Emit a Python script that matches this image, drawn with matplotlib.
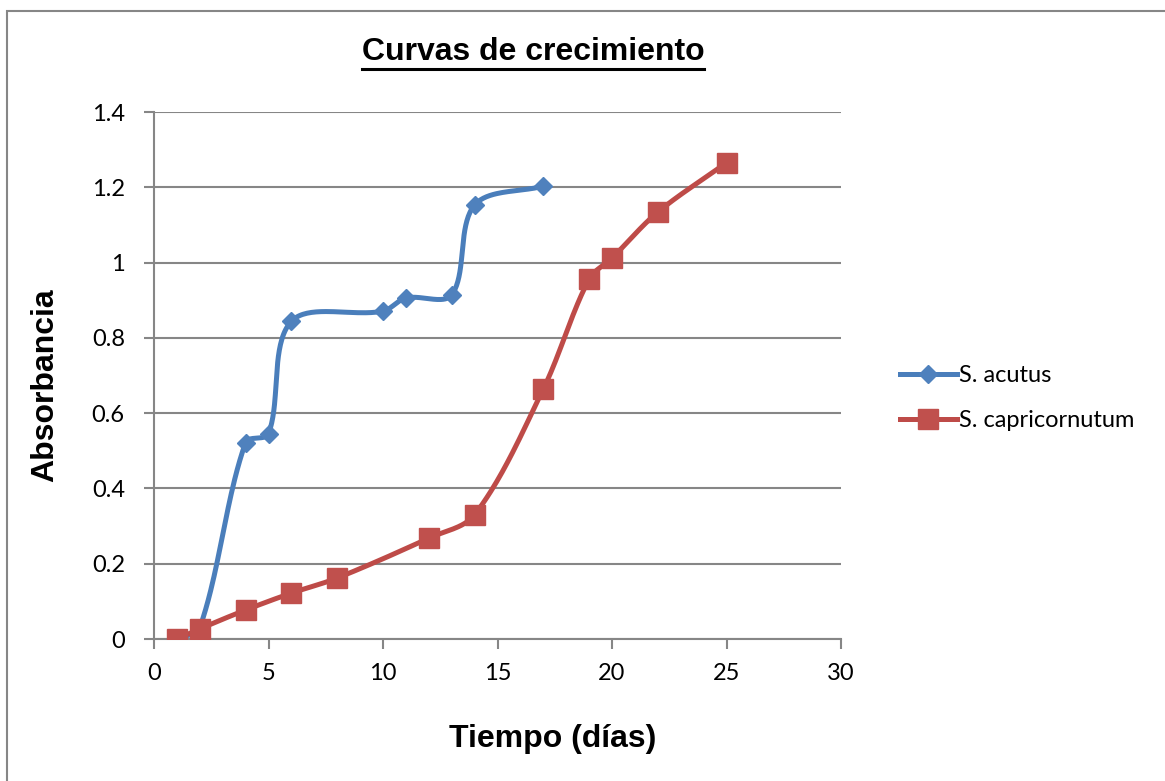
import numpy as np
import matplotlib.pyplot as plt
from matplotlib.patches import Rectangle
from matplotlib.lines import Line2D

# data
acutus_x = [1, 2, 4, 5, 6, 10, 11, 13, 14, 17]
acutus_y = [0, 0.03, 0.522, 0.545, 0.844, 0.871, 0.906, 0.914, 1.153, 1.203]
capri_x = [1, 2, 4, 6, 8, 12, 14, 17, 19, 20, 22, 25]
capri_y = [0, 0.027, 0.077, 0.122, 0.162, 0.268, 0.33, 0.664, 0.956, 1.012, 1.134, 1.265]
series_names = ["S. acutus", "S. capricornutum"]
x_ticks = [0, 5, 10, 15, 20, 25, 30]
y_ticks = [0, 0.2, 0.4, 0.6, 0.8, 1, 1.2, 1.4]
y_tick_labels = ["0", "0.2", "0.4", "0.6", "0.8", "1", "1.2", "1.4"]

BLUE_LINE = "#4A7EBB"
BLUE_MARK = "#4F81BD"
RED_LINE = "#BE4B48"
RED_MARK = "#C0504D"
GRID = "#868686"

# rough pixel per data unit, so the smoothing works in screen space
SX, SY = 22.9, 376.4


def smooth(xs, ys, n=40):
	# bezier smoothing, handles scaled by the neighbouring segment lengths
	p = np.column_stack([np.array(xs) * SX, np.array(ys) * SY]).astype(float)
	m = len(p)
	hin = np.zeros_like(p)
	hout = np.zeros_like(p)
	for i in range(m):
		a = p[max(i - 1, 0)]
		b = p[min(i + 1, m - 1)]
		tang = b - a
		d0 = np.hypot(*(p[i] - a))
		d1 = np.hypot(*(b - p[i]))
		tot = d0 + d1
		if tot == 0:
			continue
		hout[i] = tang * d1 / tot / 3
		hin[i] = tang * d0 / tot / 3
	t = np.linspace(0, 1, n)[:, None]
	out = []
	for i in range(m - 1):
		p0 = p[i]
		p3 = p[i + 1]
		c1 = p0 + hout[i]
		c2 = p3 - hin[i + 1]
		seg = ((1 - t) ** 3) * p0 + 3 * ((1 - t) ** 2) * t * c1 + 3 * (1 - t) * t ** 2 * c2 + t ** 3 * p3
		out.append(seg if i == 0 else seg[1:])
	out = np.vstack(out)
	return out[:, 0] / SX, out[:, 1] / SY


fig = plt.figure(figsize=(11.65, 7.81), dpi=100)
fig.patches.append(Rectangle((7 / 1165, -0.1), 1.2, 1 - 11 / 781 + 0.1, transform=fig.transFigure,
	fill=False, edgecolor=GRID, linewidth=1.5, zorder=0))

ax = fig.add_axes([154 / 1165, 1 - 639 / 781, 687 / 1165, 527 / 781])

bx, by = smooth(acutus_x, acutus_y)
ax.plot(bx, by, color=BLUE_LINE, linewidth=3.6, solid_capstyle="round", zorder=3)
ax.plot(acutus_x, acutus_y, linestyle="none", marker="D", markersize=9.5, color=BLUE_MARK, zorder=4)

rx, ry = smooth(capri_x, capri_y)
ax.plot(rx, ry, color=RED_LINE, linewidth=3.6, solid_capstyle="round", zorder=5)
ax.plot(capri_x, capri_y, linestyle="none", marker="s", markersize=14, color=RED_MARK, zorder=6)

ax.set_xlim(0, 30)
ax.set_ylim(0, 1.4)
ax.set_xticks(x_ticks)
ax.set_yticks(y_ticks)
ax.set_yticklabels(y_tick_labels)
ax.grid(axis="y", color=GRID, linewidth=1.5)
ax.set_axisbelow(True)
for s in ["top", "right"]:
	ax.spines[s].set_visible(False)
for s in ["left", "bottom"]:
	ax.spines[s].set_color(GRID)
	ax.spines[s].set_linewidth(1.5)
ax.tick_params(direction="out", length=7, width=1.5, color=GRID, labelsize=17)
for lab in ax.get_xticklabels() + ax.get_yticklabels():
	lab.set_fontfamily("Lato")
ax.tick_params(axis="x", pad=10)
ax.tick_params(axis="y", pad=14)

fig.text(553 / 1165, 1 - 739 / 781, "Tiempo (días)", ha="center", va="center",
	fontsize=23, fontweight="bold", family="Liberation Sans")
fig.text(45 / 1165, 1 - 385 / 781, "Absorbancia", ha="center", va="center", rotation=90,
	fontsize=23, fontweight="bold", family="Liberation Sans")
title = fig.text(533 / 1165, 1 - 52 / 781, "Curvas de crecimiento", ha="center", va="center",
	fontsize=23, fontweight="bold", family="Liberation Sans")

fig.canvas.draw()
bb = title.get_window_extent().transformed(fig.transFigure.inverted())
fig.add_artist(Line2D([bb.x0, bb.x1], [bb.y0 - 0.003, bb.y0 - 0.003], transform=fig.transFigure,
	color="black", linewidth=2.2))

handles = [
	Line2D([], [], color=BLUE_LINE, linewidth=3.6, marker="D", markersize=9.5,
		markerfacecolor=BLUE_MARK, markeredgecolor=BLUE_MARK),
	Line2D([], [], color=RED_LINE, linewidth=3.6, marker="s", markersize=14,
		markerfacecolor=RED_MARK, markeredgecolor=RED_MARK),
]
fig.legend(handles, series_names, loc="center left", bbox_to_anchor=(900 / 1165, 1 - 398 / 781),
	frameon=False, prop={"family": "Lato", "size": 17}, handlelength=2.4, handletextpad=0.1,
	labelspacing=1.0, borderaxespad=0, borderpad=0)

fig.savefig("out.png", dpi=100)
